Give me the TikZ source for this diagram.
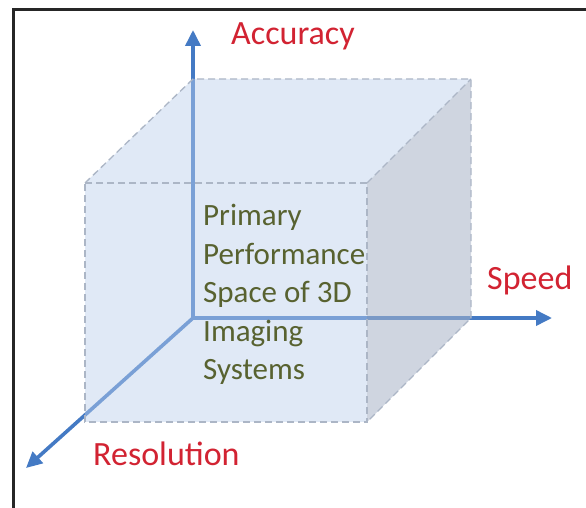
\documentclass[tikz,border=0pt]{standalone}
\usepackage{fontspec}
\setmainfont{Carlito}
\usetikzlibrary{arrows.meta}
\definecolor{axisblue}{RGB}{68,122,196}
\definecolor{labelred}{RGB}{210,35,50}
\definecolor{textolive}{RGB}{88,98,48}
\definecolor{facefill}{RGB}{188,208,236}
\definecolor{sidefill}{RGB}{168,180,200}
\definecolor{edgegray}{RGB}{172,182,198}
\tikzset{
  axisline/.style={draw=axisblue, line width=3.6pt, -{Triangle[length=16pt,width=15pt]}},
  axislabel/.style={text=labelred, font=\fontsize{34}{40}\selectfont, inner sep=0pt, anchor=base west},
  cubeedge/.style={draw=edgegray, line width=1.3pt, dash pattern=on 7pt off 4pt},
  face/.style={fill=facefill, fill opacity=0.45},
  sideface/.style={fill=sidefill, fill opacity=0.55},
  inner/.style={text=textolive, font=\fontsize{31}{38.5}\selectfont, align=left, inner sep=0pt, anchor=north west}
}
\begin{document}
\begin{tikzpicture}[x=1pt,y=-1pt]
\useasboundingbox (0,0) rectangle (586,508);
\fill[white] (0,0) rectangle (586,508);
% frame
\draw[line width=3pt, black!85] (13,508) -- (13,10) -- (586,10);
% coordinates
\coordinate (O) at (193,318);
\coordinate (Atip) at (193,30);
\coordinate (Stip) at (552,318);
\coordinate (Rtip) at (26,468);
\coordinate (F1) at (85,183);
\coordinate (F2) at (367,183);
\coordinate (F3) at (367,422);
\coordinate (F4) at (85,422);
\coordinate (B1) at (193,79);
\coordinate (B2) at (471,79);
\coordinate (B3) at (471,318);
% axes
\draw[axisline] (O) -- (Atip);
\draw[axisline] (O) -- (Stip);
\draw[axisline] (O) -- (Rtip);
% cube faces
\path[face] (F1) -- (F2) -- (F3) -- (F4) -- cycle;
\path[face] (F1) -- (B1) -- (B2) -- (F2) -- cycle;
\path[sideface] (F2) -- (B2) -- (B3) -- (F3) -- cycle;
% cube edges
\draw[cubeedge] (F1) -- (F2) -- (F3) -- (F4) -- cycle;
\draw[cubeedge] (F1) -- (B1) -- (B2) -- (B3) -- (F3);
\draw[cubeedge] (F2) -- (B2);
% labels
\node[axislabel] (acc) at (231,45) {Accuracy};
\node[axislabel] (spd) at (487,289) {Speed};
\node[axislabel] (res) at (93,465) {Resolution};
\node[inner] (txt) at (203,204) {Primary\\Performance\\Space of 3D\\Imaging\\Systems};
\end{tikzpicture}
\end{document}
